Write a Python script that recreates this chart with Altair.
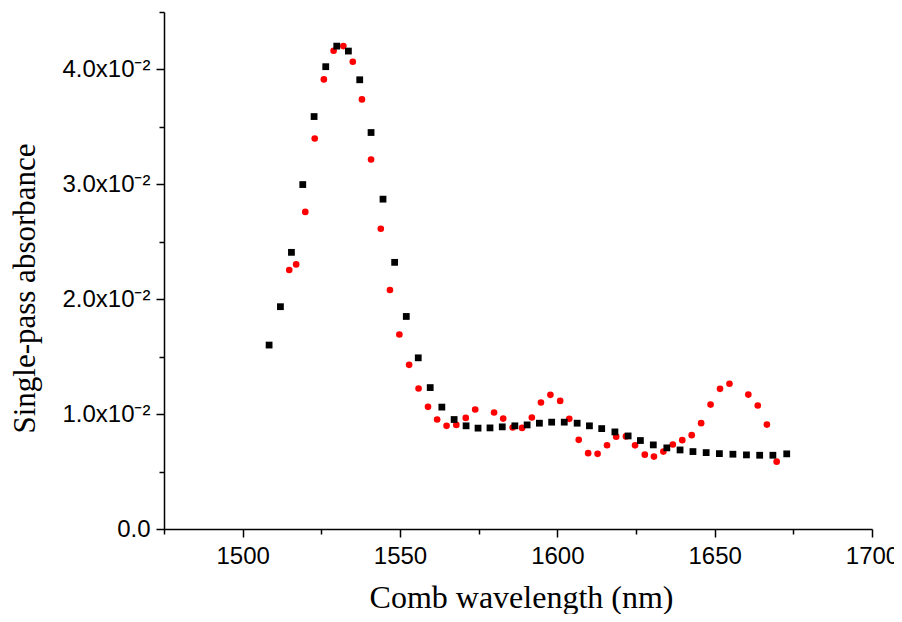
import altair as alt
import pandas as pd

# Black squares series
black_wl = [1508.4, 1512.0, 1515.5, 1519.1, 1522.7, 1526.4, 1529.9, 1533.6, 1537.2, 1540.8,
            1544.6, 1548.3, 1552.0, 1555.8, 1559.6, 1563.3, 1567.2, 1571.0, 1574.8, 1578.6,
            1582.5, 1586.5, 1590.4, 1594.3, 1598.2, 1602.2, 1606.3, 1610.2, 1614.1, 1618.3,
            1622.5, 1626.4, 1630.5, 1634.8, 1639.0, 1643.1, 1647.3, 1651.5, 1655.8, 1660.1,
            1664.3, 1668.5, 1672.9]
black_abs = [0.01601, 0.01935, 0.02408, 0.02998, 0.03590, 0.04024, 0.04203, 0.04160, 0.03910, 0.03451,
             0.02871, 0.02321, 0.01850, 0.01490, 0.01231, 0.01061, 0.00953, 0.00898, 0.00878, 0.00880,
             0.00889, 0.00898, 0.00906, 0.00921, 0.00930, 0.00930, 0.00921, 0.00898, 0.00874, 0.00845,
             0.00810, 0.00770, 0.00732, 0.00706, 0.00688, 0.00674, 0.00665, 0.00656, 0.00651, 0.00645,
             0.00642, 0.00642, 0.00654]

# Red circles series
red_wl = [1514.8, 1517.0, 1519.9, 1522.9, 1525.8, 1528.9, 1532.0, 1535.0, 1537.9, 1540.8,
          1543.9, 1546.8, 1549.8, 1552.9, 1555.9, 1558.9, 1561.8, 1564.8, 1567.9, 1570.9,
          1573.9, 1579.9, 1582.8, 1585.8, 1588.8, 1591.9, 1594.8, 1597.8, 1600.9, 1603.8,
          1606.8, 1609.8, 1612.8, 1615.8, 1618.7, 1621.8, 1624.7, 1627.8, 1630.7, 1633.7,
          1636.7, 1639.7, 1642.7, 1645.7, 1648.7, 1651.7, 1654.7, 1660.7, 1663.7, 1666.6,
          1669.7]
red_abs = [0.02254, 0.02303, 0.02760, 0.03399, 0.03913, 0.04163, 0.04203, 0.04067, 0.03739, 0.03216,
           0.02613, 0.02080, 0.01693, 0.01429, 0.01223, 0.01063, 0.00953, 0.00898, 0.00906, 0.00967,
           0.01040, 0.01014, 0.00961, 0.00883, 0.00880, 0.00970, 0.01101, 0.01168, 0.01115, 0.00959,
           0.00776, 0.00660, 0.00654, 0.00729, 0.00804, 0.00806, 0.00728, 0.00647, 0.00630, 0.00674,
           0.00735, 0.00773, 0.00817, 0.00921, 0.01083, 0.01220, 0.01264, 0.01170, 0.01075, 0.00909,
           0.00586]

x_major = [1500, 1550, 1600, 1650, 1700]
x_minor = [1475, 1525, 1575, 1625, 1675]
y_major = [0.0, 0.01, 0.02, 0.03, 0.04]
y_minor = [0.005, 0.015, 0.025, 0.035, 0.045]

black = pd.DataFrame({"wl": black_wl, "A": black_abs})
red = pd.DataFrame({"wl": red_wl, "A": red_abs})

xscale = alt.Scale(domain=[1475, 1700], nice=False, zero=False)
yscale = alt.Scale(domain=[0, 0.045], nice=False, zero=False)

SANS = "Liberation Sans"
SERIF = "Liberation Serif"

x_axis_major = alt.Axis(
    orient="bottom", values=x_major, format="d", title="Comb wavelength (nm)", grid=False,
    tickSize=8, tickWidth=1.5, tickColor="black", domainColor="black", domainWidth=1.5,
    labelFont=SANS, labelFontSize=24, labelColor="black", labelPadding=7,
    labelFlush=False, labelOverlap=False,
    titleFont=SERIF, titleFontSize=32, titleFontWeight="normal", titleColor="black",
    titleBaseline="alphabetic", titleY=78, titleX=357,
)
x_axis_minor = alt.Axis(
    orient="bottom", values=x_minor, title=None, grid=False, labels=False, domain=False,
    tickSize=5, tickWidth=1.5, tickColor="black",
)
y_axis_major = alt.Axis(
    orient="left", values=y_major, title="Single-pass absorbance", grid=False,
    tickSize=8, tickWidth=1.5, tickColor="black", domainColor="black", domainWidth=1.5,
    labelFont=SANS, labelFontSize=24, labelColor="black", labelPadding=6,
    labelFlush=False, labelOverlap=False,
    labelExpr="datum.value == 0 ? '0.0' : format(datum.value * 100, '.1f') + 'x10\u207b\u00b2'",
    titleFont=SERIF, titleFontSize=31, titleFontWeight="normal", titleColor="black",
    titleBaseline="alphabetic", titleX=-130, titleY=276, titleAngle=270,
)
y_axis_minor = alt.Axis(
    orient="left", values=y_minor, title=None, grid=False, labels=False, domain=False,
    tickSize=5, tickWidth=1.5, tickColor="black",
)

red_layer = alt.Chart(red).mark_circle(size=44, color="#ff0000", opacity=1).encode(
    x=alt.X("wl:Q", scale=xscale, axis=x_axis_minor),
    y=alt.Y("A:Q", scale=yscale, axis=y_axis_minor),
)
black_layer = alt.Chart(black).mark_square(size=46, color="black", opacity=1).encode(
    x=alt.X("wl:Q", scale=xscale, axis=x_axis_major),
    y=alt.Y("A:Q", scale=yscale, axis=y_axis_major),
)

chart = alt.layer(red_layer, black_layer).resolve_axis(
    x="independent", y="independent"
).properties(
    width=708,
    height=517,
    padding={"left": 156, "top": 4, "right": 22, "bottom": 85},
    autosize=alt.AutoSizeParams(type="none"),
    background="white",
).configure_view(stroke=None)

chart.save("out.html", embed_options={"renderer": "svg", "actions": False})
